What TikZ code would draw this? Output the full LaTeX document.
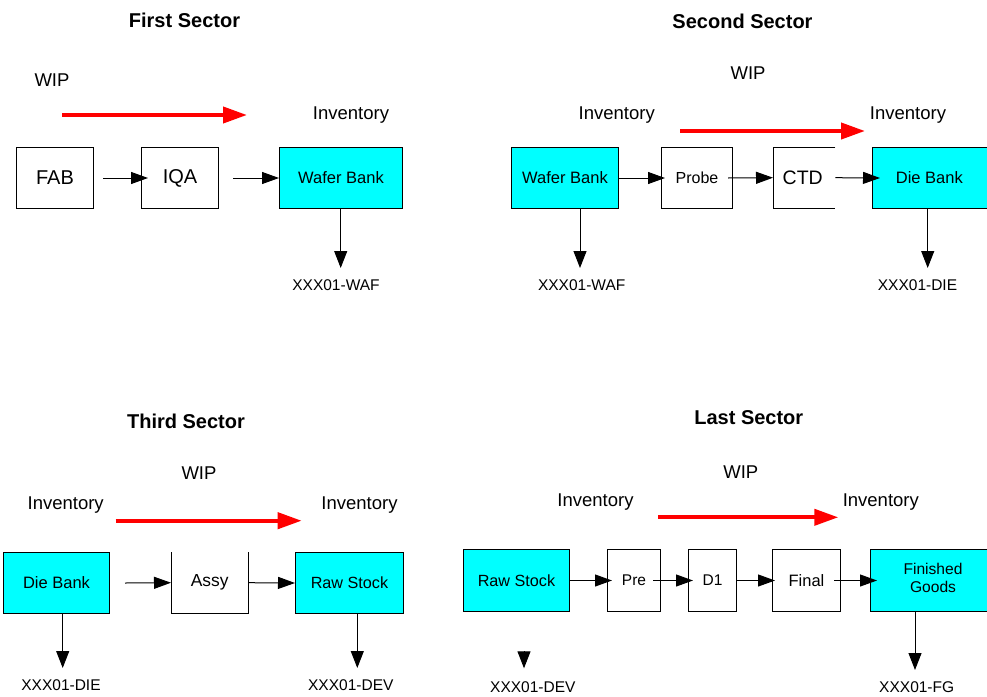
\documentclass[tikz,border=0pt]{standalone}
\usepackage{fontspec}
\setmainfont{Liberation Sans}
\usetikzlibrary{arrows.meta}
\definecolor{boxcyan}{HTML}{00FFFF}
\definecolor{wipred}{HTML}{FF0000}
\tikzset{
  fs/.style={font=\fontsize{#1}{#1}\selectfont},
  box/.style={draw=black, line width=1pt, anchor=north west, inner sep=0pt},
  bank/.style={box, fill=boxcyan},
  open/.style={anchor=north west, inner sep=0pt},
  title/.style={font=\fontsize{20}{24}\selectfont\bfseries},
  lbl/.style={fs=18.5},
  code/.style={fs=15.5},
  arr/.style={line width=1pt, -{Triangle[length=17pt,width=12pt]}},
  darr/.style={line width=1pt, -{Triangle[length=17pt,width=13pt]}},
  wip/.style={line width=4pt, wipred, -{Triangle[length=24pt,width=16pt]}}
}
\begin{document}
\begin{tikzpicture}[x=1pt,y=-1pt]
\useasboundingbox[fill=white] (0,0) rectangle (987,696);
\clip (0,0) rectangle (987,696);

% ---------- First Sector ----------
\node[title] (t1) at (184.5,20) {First Sector};
\node[lbl] (w1) at (52,80) {WIP};
\node[lbl] (i1) at (351,115) {Inventory};
\coordinate (r1a) at (62,115); \coordinate (r1b) at (247,115);
\draw[wip] (r1a) -- (r1b);
\node[box, minimum width=77pt, minimum height=61pt, fs=20] (fab) at (16,147) {FAB};
\node[box, minimum width=77pt, minimum height=61pt, fs=20] (iqa) at (141,147) {IQA};
\node[bank, minimum width=123pt, minimum height=61pt, fs=16.5] (wb1) at (279,147) {Wafer Bank};
\draw[arr] ([xshift=9pt]fab.east) -- ([xshift=7pt]iqa.west);
\draw[arr] ([xshift=14pt]iqa.east) -- (wb1.west);
\coordinate (e1) at (340.7,268);
\draw[darr] (wb1.south -| e1) -- (e1);
\node[code] (c1) at (336,285) {XXX01-WAF};

% ---------- Second Sector ----------
\node[title] (t2) at (742.5,21) {Second Sector};
\node[lbl] (w2) at (748,73) {WIP};
\node[lbl] (i2a) at (616.7,115) {Inventory};
\node[lbl] (i2b) at (908,115) {Inventory};
\coordinate (r2a) at (680,131); \coordinate (r2b) at (865,131);
\draw[wip] (r2a) -- (r2b);
\node[bank, minimum width=107pt, minimum height=61pt, fs=16.5] (wb2) at (511,147) {Wafer Bank};
\node[box, minimum width=71pt, minimum height=61pt, fs=16] (probe) at (661,147) {Probe};
\node[open, minimum width=62pt, minimum height=61pt] (ctd) at (773,147) {};
\draw[line width=1pt] (ctd.north east) -- (ctd.north west) -- (ctd.south west) -- (ctd.south east);
\node[fs=19.5] (ctdt) at (802.7,177.5) {CTD};
\node[bank, minimum width=123pt, minimum height=61pt] (db2) at (872,147) {};
\node[fs=16.5] (db2t) at (929.3,177.5) {Die Bank};
\draw[arr] (wb2.east) -- ([xshift=4pt]probe.west);
\draw[arr] ([xshift=-5pt]probe.east) -- (ctd.west);
\draw[arr] (ctd.east) -- ([xshift=8pt]db2.west);
\coordinate (e2a) at (580,268);
\draw[darr] (wb2.south -| e2a) -- (e2a);
\node[code] (c2a) at (581.7,285) {XXX01-WAF};
\coordinate (e2b) at (927.7,268);
\draw[darr] (db2.south -| e2b) -- (e2b);
\node[code] (c2b) at (917.5,285) {XXX01-DIE};

% ---------- Third Sector ----------
\node[title] (t3) at (186,421) {Third Sector};
\node[lbl] (w3) at (199,473) {WIP};
\node[lbl] (i3a) at (65.7,505) {Inventory};
\node[lbl] (i3b) at (359.5,505) {Inventory};
\coordinate (r3a) at (115.7,520.7); \coordinate (r3b) at (301.7,520.7);
\draw[wip] (r3a) -- (r3b);
\node[bank, minimum width=106pt, minimum height=61pt, fs=16.5] (db3) at (3,552) {Die Bank};
\node[open, minimum width=77pt, minimum height=61pt, fs=17.4] (assy) at (171,552) {Assy};
\draw[line width=1pt] (assy.north west) -- (assy.south west) -- (assy.south east) -- (assy.north east);
\node[bank, minimum width=108pt, minimum height=61pt, fs=16.2] (rs3) at (295,552) {Raw Stock};
\draw[arr] ([xshift=15pt]db3.east) -- (assy.west);
\draw[arr] (assy.east) -- (rs3.west);
\coordinate (e3a) at (62.7,668);
\draw[darr] (db3.south -| e3a) -- (e3a);
\node[code] (c3a) at (61,685) {XXX01-DIE};
\coordinate (e3b) at (357.3,668);
\draw[darr] (rs3.south -| e3b) -- (e3b);
\node[code] (c3b) at (350.8,685) {XXX01-DEV};

% ---------- Last Sector ----------
\node[title] (t4) at (748.8,417.3) {Last Sector};
\node[lbl] (w4) at (740.8,471.7) {WIP};
\node[lbl] (i4a) at (595.5,501.7) {Inventory};
\node[lbl] (i4b) at (880.8,501.7) {Inventory};
\coordinate (r4a) at (658.3,517.3); \coordinate (r4b) at (838.3,517.3);
\draw[wip] (r4a) -- (r4b);
\node[bank, minimum width=106pt, minimum height=62pt, fs=16.2] (rs4) at (463,549) {Raw Stock};
\node[box, minimum width=53pt, minimum height=62pt, fs=15.5] (pre) at (607,549) {Pre};
\node[box, minimum width=48pt, minimum height=62pt, fs=15.5] (d1) at (688,549) {D1};
\node[box, minimum width=68pt, minimum height=62pt, fs=16.5] (final) at (772,549) {Final};
\node[bank, minimum width=125pt, minimum height=62pt] (fg) at (870,549) {};
\node[fs=15.6, align=center] (fgt) at (933,578) {Finished\\[3pt]Goods};
\draw[arr] (rs4.east) -- ([xshift=5pt]pre.west);
\draw[arr] ([xshift=-8pt]pre.east) -- ([xshift=5pt]d1.west);
\draw[arr] (d1.east) -- ([xshift=3pt]final.west);
\draw[arr] ([xshift=-7pt]final.east) -- ([xshift=7pt]fg.west);
\coordinate (e4) at (915,670);
\draw[darr] (fg.south -| e4) -- (e4);
\node[code] (c4b) at (916.7,687) {XXX01-FG};
\coordinate (h4a) at (524,651); \coordinate (h4b) at (524,668.3);
\draw[darr] (h4a) -- (h4b);
\node[code] (c4a) at (532.8,686.7) {XXX01-DEV};
\end{tikzpicture}
\end{document}
